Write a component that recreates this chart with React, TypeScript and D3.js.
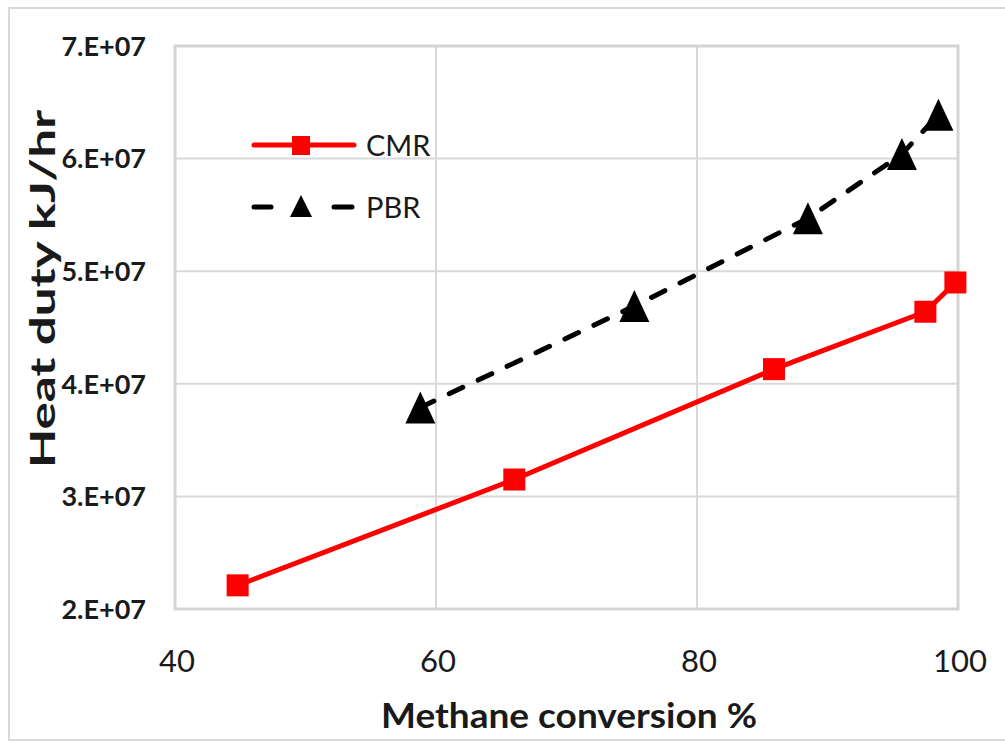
import React from "react";
import * as d3 from "d3";

const cmrX = [44.8, 66.0, 85.9, 97.5, 99.8];
const cmrY = [2.21e7, 3.15e7, 4.13e7, 4.64e7, 4.9e7];
const pbrX = [58.8, 75.2, 88.5, 95.7, 98.5];
const pbrY = [3.79e7, 4.69e7, 5.47e7, 6.04e7, 6.39e7];
const xTicks = [40, 60, 80, 100];
const yTicks = [2e7, 3e7, 4e7, 5e7, 6e7, 7e7];
const yTickLabels = ["2.E+07", "3.E+07", "4.E+07", "5.E+07", "6.E+07", "7.E+07"];
const seriesNames = ["CMR", "PBR"];

const W = 1005;
const H = 742;
const L = 175, R = 958, T = 46, B = 609;
const FONT = "Lato, 'Open Sans', sans-serif";

export default function App() {
  const x = d3.scaleLinear().domain([40, 100]).range([L, R]);
  const y = d3.scaleLinear().domain([2e7, 7e7]).range([B, T]);
  const line = d3.line<[number, number]>().x(d => x(d[0])).y(d => y(d[1]));
  const cmr: [number, number][] = cmrX.map((v, i) => [v, cmrY[i]]);
  const pbr: [number, number][] = pbrX.map((v, i) => [v, pbrY[i]]);
  const tri = (cx: number, cy: number, w: number, h: number) =>
    `M${cx},${cy - h / 2}L${cx + w / 2},${cy + h / 2}L${cx - w / 2},${cy + h / 2}Z`;

  return (
    <svg width={W} height={H} style={{ position: "absolute", left: 0, top: 0 }} fontFamily={FONT}>
      <rect x={0} y={0} width={W} height={H} fill="#fff" />
      <rect x={9} y={8} width={W + 10} height={732} fill="none" stroke="#d9d9d9" strokeWidth={2} />
      {/* gridlines */}
      {yTicks.map(t => (
        <line key={"gy" + t} x1={L} x2={R} y1={y(t)} y2={y(t)} stroke="#d9d9d9" strokeWidth={2} />
      ))}
      {xTicks.map(t => (
        <line key={"gx" + t} x1={x(t)} x2={x(t)} y1={T} y2={B} stroke="#d9d9d9" strokeWidth={2} />
      ))}
      <rect x={L} y={T} width={R - L} height={B - T} fill="none" stroke="#d4d4d4" strokeWidth={3} />
      {/* y tick labels */}
      {yTicks.map((t, i) => (
        <text key={"ty" + t} x={146} y={y(t)} dy="0.36em" textAnchor="end" fontSize={27} fontWeight="bold" fill="#1a1a1a">
          {yTickLabels[i]}
        </text>
      ))}
      {xTicks.map(t => (
        <text key={"tx" + t} x={x(t) + 2} y={661} dy="0.36em" textAnchor="middle" fontSize={31} fill="#1a1a1a">
          {t}
        </text>
      ))}
      <text x={569} y={716} dy="0.36em" textAnchor="middle" fontSize={34} fontWeight="bold" fill="#1a1a1a"
        textLength={376} lengthAdjust="spacingAndGlyphs">
        Methane conversion %
      </text>
      <text transform="translate(42,289) rotate(-90)" dy="0.36em" textAnchor="middle" fontSize={35} fontWeight="bold" fill="#1a1a1a"
        textLength={358} lengthAdjust="spacingAndGlyphs">
        Heat duty kJ/hr
      </text>
      {/* series */}
      <path d={line(cmr) || ""} fill="none" stroke="#ff0000" strokeWidth={5} strokeLinejoin="round" />
      {cmr.map((d, i) => (
        <rect key={"c" + i} x={x(d[0]) - 11} y={y(d[1]) - 11} width={22} height={22} fill="#ff0000" />
      ))}
      <path d={line(pbr) || ""} fill="none" stroke="#000" strokeWidth={5} strokeDasharray="15,17" strokeLinecap="round" />
      {pbr.map((d, i) => (
        <path key={"p" + i} d={tri(x(d[0]), y(d[1]), 30, 32)} fill="#000" />
      ))}
      {/* legend */}
      <line x1={254} x2={354} y1={145} y2={145} stroke="#ff0000" strokeWidth={5} strokeLinecap="round" />
      <rect x={292} y={136} width={18} height={19} fill="#ff0000" />
      <text x={366} y={146} dy="0.36em" fontSize={29} fill="#1a1a1a">{seriesNames[0]}</text>
      <line x1={254} x2={271} y1={207} y2={207} stroke="#000" strokeWidth={5} strokeLinecap="round" />
      <line x1={334} x2={352} y1={207} y2={207} stroke="#000" strokeWidth={5} strokeLinecap="round" />
      <path d={tri(301, 206, 22, 22)} fill="#000" />
      <text x={366} y={208} dy="0.36em" fontSize={29} fill="#1a1a1a">{seriesNames[1]}</text>
    </svg>
  );
}
